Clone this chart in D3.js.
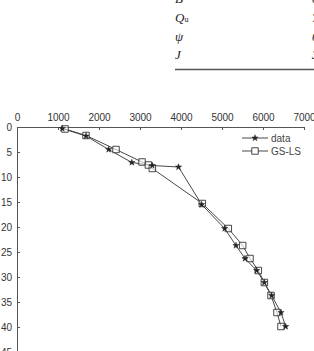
<!DOCTYPE html>
<html>
<head>
<meta charset="utf-8">
<script src="https://cdn.jsdelivr.net/npm/d3@7"></script>
<style>
  body { margin: 0; background: #fff; }
  svg { display: block; }
  .axis text { font-family: "Liberation Sans", Arial, sans-serif; font-size: 10px; fill: #333; }
  .axis path, .axis line { stroke: #555; }
  .tbl { font-family: "Liberation Serif", serif; font-style: italic; font-size: 13px; fill: #222; }
</style>
</head>
<body>
<svg></svg>
<script>
const width = 314;
const height = 351;

// load (x) vs depth (y)
const dataX = [1105, 1683, 2236, 2800, 3300, 3940, 4504, 5065, 5341, 5561, 5846, 6033, 6211, 6439, 6553];
const dataY = [0.3, 1.8, 4.5, 7.1, 7.7, 8.0, 15.5, 20.3, 23.7, 26.3, 28.7, 31.1, 33.7, 37.1, 39.9];

const fitX = [1171, 1683, 2415, 3050, 3205, 3301, 4520, 5154, 5504, 5683, 5886, 6033, 6195, 6341, 6439];
const fitY = [0.4, 1.7, 4.5, 7.0, 7.6, 8.3, 15.3, 20.3, 23.7, 26.3, 28.7, 31.1, 33.7, 37.1, 39.9];

const xTicks = [0, 1000, 2000, 3000, 4000, 5000, 6000, 7000];
const yTicks = [0, 5, 10, 15, 20, 25, 30, 35, 40, 45];
const seriesNames = ["data", "GS-LS"];

// fragment of the table above the chart (cut off by the frame)
const tableRows = ["B", "Q", "\u03c8", "J"];
const tableVals = ["0", "7", "0", "3"];

const svg = d3.select("svg")
    .attr("width", width)
    .attr("height", height);

const x = d3.scaleLinear().domain([0, 7000]).range([17, 304]);
const y = d3.scaleLinear().domain([0, 45]).range([127, 352]);

// ---------- table fragment ----------
const rowY = [3, 22, 41, 59];
const tbl = svg.append("g");
tableRows.forEach((r, i) => {
    const t = tbl.append("text").attr("class", "tbl")
        .attr("x", 175).attr("y", rowY[i]).text(r);
    if (r === "Q") t.append("tspan").attr("font-size", "8px").attr("font-style", "normal").text("u");
    tbl.append("text").attr("class", "tbl").attr("font-style", "normal")
        .attr("x", 312).attr("y", rowY[i]).text(tableVals[i]);
});
tbl.append("line")
    .attr("x1", 175).attr("x2", width)
    .attr("y1", 69.5).attr("y2", 69.5)
    .attr("stroke", "#555").attr("stroke-width", 1.3);

// ---------- axes ----------
svg.append("g")
    .attr("class", "axis")
    .attr("transform", `translate(0,${y(0)})`)
    .call(d3.axisTop(x).tickValues(xTicks).tickFormat(d3.format("d"))
        .tickSizeInner(-3).tickSizeOuter(0).tickPadding(6));

svg.append("g")
    .attr("class", "axis")
    .attr("transform", `translate(${x(0)},0)`)
    .call(d3.axisLeft(y).tickValues(yTicks).tickFormat(d3.format("d"))
        .tickSizeInner(-3).tickSizeOuter(0).tickPadding(5));

// ---------- series ----------
const line = d3.line().x(d => x(d[0])).y(d => y(d[1]));
const dataPts = dataX.map((v, i) => [v, dataY[i]]);
const fitPts = fitX.map((v, i) => [v, fitY[i]]);

svg.append("path").datum(fitPts)
    .attr("d", line).attr("fill", "none")
    .attr("stroke", "#333").attr("stroke-width", 0.9);
svg.append("path").datum(dataPts)
    .attr("d", line).attr("fill", "none")
    .attr("stroke", "#333").attr("stroke-width", 0.9);

const star = d3.symbol().type(d3.symbolStar).size(12);
const square = d3.symbol().type(d3.symbolSquare).size(42);

svg.append("g").selectAll("path")
    .data(fitPts).enter().append("path")
    .attr("d", square)
    .attr("transform", d => `translate(${x(d[0])},${y(d[1])})`)
    .attr("fill", "#fff").attr("fill-opacity", 0.6)
    .attr("stroke", "#333").attr("stroke-width", 0.9);

svg.append("g").selectAll("path")
    .data(dataPts).enter().append("path")
    .attr("d", star)
    .attr("transform", d => `translate(${x(d[0])},${y(d[1])})`)
    .attr("fill", "#222").attr("stroke", "#222").attr("stroke-width", 0.5);

// ---------- legend ----------
const legend = svg.append("g");
seriesNames.forEach((name, i) => {
    const ly = 138 + i * 13;
    legend.append("line")
        .attr("x1", 242).attr("x2", 268)
        .attr("y1", ly).attr("y2", ly)
        .attr("stroke", "#333").attr("stroke-width", 0.9);
    legend.append("path")
        .attr("d", i === 0 ? star : square)
        .attr("transform", `translate(255,${ly})`)
        .attr("fill", i === 0 ? "#222" : "#fff")
        .attr("stroke", i === 0 ? "#222" : "#333")
        .attr("stroke-width", i === 0 ? 0.5 : 0.9);
    legend.append("text")
        .attr("x", 271).attr("y", ly + 3.5)
        .attr("font-family", "Liberation Sans, Arial, sans-serif")
        .attr("font-size", "10px").attr("fill", "#444")
        .text(name);
});
</script>
</body>
</html>
